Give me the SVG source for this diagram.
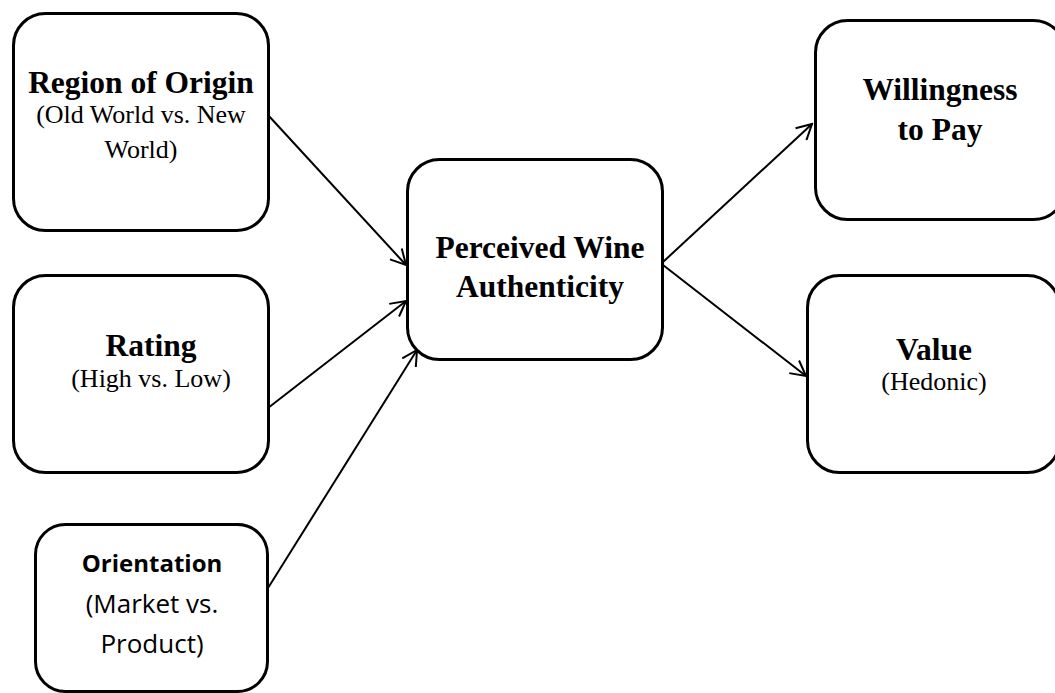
<svg xmlns="http://www.w3.org/2000/svg" width="1055" height="693" viewBox="0 0 1055 693">
<style>
.box{fill:#fff;stroke:#000;stroke-width:3}
.t{font-family:"Liberation Serif","Times New Roman",serif;font-weight:bold;font-size:31.5px;text-anchor:middle;fill:#000}
.s{font-family:"Liberation Serif","Times New Roman",serif;font-size:26px;text-anchor:middle;fill:#000}
.ct{font-family:"Open Sans","Noto Sans",sans-serif;font-weight:bold;font-size:24px;text-anchor:middle;fill:#000}
.cs{font-family:"Open Sans","Noto Sans",sans-serif;font-size:26px;text-anchor:middle;fill:#000}
.edge{stroke:#000;stroke-width:2;fill:none;marker-end:url(#arr)}
</style>
<defs>
<marker id="arr" markerUnits="userSpaceOnUse" viewBox="-16 -9 18 18" refX="0" refY="0" markerWidth="18" markerHeight="18" orient="auto">
<path d="M-15,-8 L0,0 L-15,8" fill="none" stroke="#000" stroke-width="2"/>
</marker>
</defs>
<rect width="1055" height="693" fill="#fff"/>
<g id="connectors">
<line class="edge" x1="268" y1="115" x2="406" y2="265"/>
<line class="edge" x1="268" y1="408" x2="406" y2="301"/>
<line class="edge" x1="268" y1="588" x2="417" y2="350"/>
<line class="edge" x1="663" y1="262" x2="812" y2="124"/>
<line class="edge" x1="663" y1="265" x2="806" y2="376"/>
</g>
<g id="region">
<rect class="box" x="13.5" y="13.5" width="255" height="217" rx="32"/>
<text class="t" x="141" y="93">Region of Origin</text>
<text class="s" x="141" y="123">(Old World vs. New</text>
<text class="s" x="141" y="158">World)</text>
</g>
<g id="rating">
<rect class="box" x="13.5" y="275.5" width="255" height="197" rx="32"/>
<text class="t" x="151" y="356">Rating</text>
<text class="s" x="151" y="387">(High vs. Low)</text>
</g>
<g id="orientation">
<rect class="box" x="35.5" y="524.5" width="232" height="167" rx="30"/>
<text class="ct" x="152" y="572">Orientation</text>
<text class="cs" x="152" y="613">(Market vs.</text>
<text class="cs" x="152" y="653">Product)</text>
</g>
<g id="authenticity">
<rect class="box" x="407.5" y="159.5" width="255" height="200" rx="32"/>
<text class="t" x="540" y="258">Perceived Wine</text>
<text class="t" x="540" y="297">Authenticity</text>
</g>
<g id="wtp">
<rect class="box" x="815.5" y="20.5" width="250" height="199" rx="32"/>
<text class="t" x="940" y="100">Willingness</text>
<text class="t" x="940" y="140">to Pay</text>
</g>
<g id="value">
<rect class="box" x="807.5" y="275.5" width="252" height="197" rx="32"/>
<text class="t" x="934" y="360">Value</text>
<text class="s" x="934" y="390">(Hedonic)</text>
</g>
</svg>
